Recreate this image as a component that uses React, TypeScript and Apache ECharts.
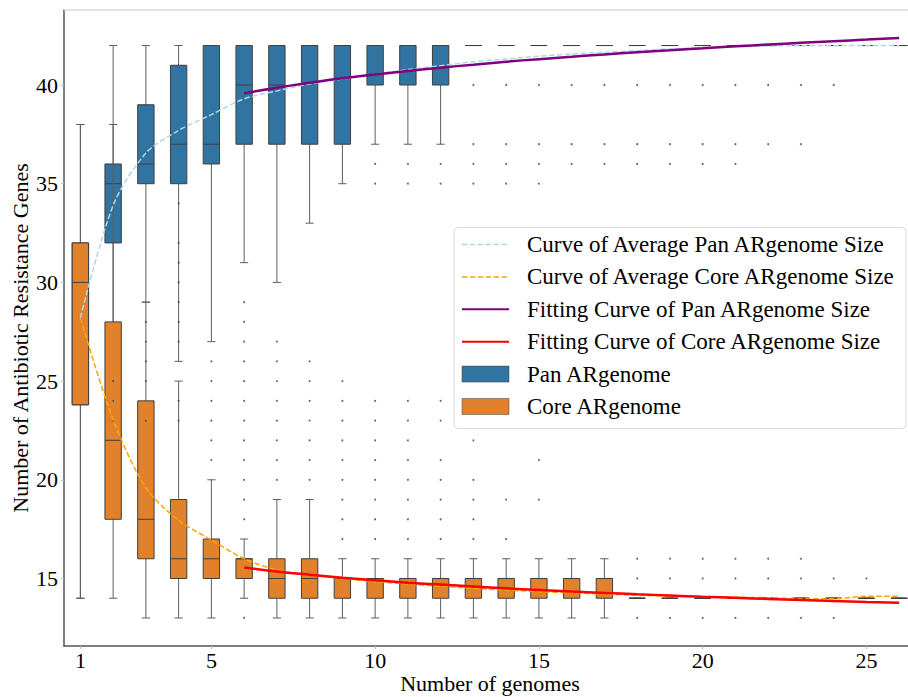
import React, { useEffect, useRef } from "react";
import * as echarts from "echarts";

const FONT = "'Liberation Serif', 'Times New Roman', Times, serif";

// Number of genomes (x categories)
const genomes = [1, 2, 3, 4, 5, 6, 7, 8, 9, 10, 11, 12, 13, 14, 15, 16, 17, 18, 19, 20, 21, 22, 23, 24, 25, 26];
const xTicks = [1, 5, 10, 15, 20, 25];
const yTicks = [15, 20, 25, 30, 35, 40];

// Pan ARgenome box statistics
const panMin = [14, 26, 29, 26, 27, 31, 30, 33, 35, 37, 37, 37, 42, 42, 42, 42, 42, 42, 42, 42, 42, 42, 42, 42, 42, 42];
const panQ1 = [23.8, 32, 35, 35, 36, 37, 37, 37, 37, 40, 40, 40, 42, 42, 42, 42, 42, 42, 42, 42, 42, 42, 42, 42, 42, 42];
const panMed = [30, 35, 36, 37, 37, 40, 40, 42, 42, 42, 42, 42, 42, 42, 42, 42, 42, 42, 42, 42, 42, 42, 42, 42, 42, 42];
const panQ3 = [32, 36, 39, 41, 42, 42, 42, 42, 42, 42, 42, 42, 42, 42, 42, 42, 42, 42, 42, 42, 42, 42, 42, 42, 42, 42];
const panMax = [38, 42, 42, 42, 42, 42, 42, 42, 42, 42, 42, 42, 42, 42, 42, 42, 42, 42, 42, 42, 42, 42, 42, 42, 42, 42];

// Core ARgenome box statistics
const coreMin = [14, 14, 13, 13, 13, 14, 13, 13, 13, 13, 13, 13, 13, 13, 13, 13, 13, 14, 14, 14, 14, 14, 14, 14, 14, 14];
const coreQ1 = [23.8, 18, 16, 15, 15, 15, 14, 14, 14, 14, 14, 14, 14, 14, 14, 14, 14, 14, 14, 14, 14, 14, 14, 14, 14, 14];
const coreMed = [30, 22, 18, 16, 16, 16, 15, 15, 15, 15, 15, 15, 15, 15, 15, 15, 15, 14, 14, 14, 14, 14, 14, 14, 14, 14];
const coreQ3 = [32, 28, 24, 19, 17, 16, 16, 16, 15, 15, 15, 15, 15, 15, 15, 15, 15, 14, 14, 14, 14, 14, 14, 14, 14, 14];
const coreMax = [38, 38, 29, 25, 20, 17, 19, 19, 16, 16, 16, 16, 16, 16, 16, 16, 16, 14, 14, 14, 14, 14, 14, 14, 14, 14];

// Outlier points (both box groups) per number of genomes
const outliers: number[][] = [
  [],
  [25, 24, 23],
  [28, 27, 26, 25, 23],
  [34, 32, 31, 30, 29, 28, 27, 24, 23],
  [26, 25, 24, 23, 22, 21],
  [29, 28, 27, 26, 25, 24, 23, 22, 21, 20, 19, 18, 13],
  [27, 26, 25, 24, 23, 22, 21, 20],
  [26, 25, 24, 23, 22, 21, 20],
  [25, 24, 23, 22, 21, 20, 19, 18, 17],
  [36, 35, 24, 23, 22, 21, 20, 19, 18, 17],
  [36, 35, 24, 23, 22, 21, 20, 19, 18, 17],
  [36, 35, 24, 23, 21, 20, 19, 18, 17],
  [40, 37, 36, 35, 22, 20, 19, 18, 17],
  [40, 37, 36, 35, 19, 17],
  [40, 37, 36, 35, 21, 19],
  [40, 37, 36],
  [40, 37, 36],
  [40, 37, 36, 16, 15, 13],
  [40, 37, 36, 16, 15, 13],
  [40, 37, 36, 16, 15, 13],
  [40, 37, 36, 16, 15, 13],
  [40, 37, 16, 15, 13],
  [40, 37, 16, 15, 13],
  [40, 15, 13],
  [15],
  [],
];

// Average curves
const avgPan = [28.2, 33.9, 36.55, 37.7, 38.5, 39.3, 39.7, 40.05, 40.3, 40.55, 40.78, 40.98, 41.18, 41.32, 41.46, 41.57, 41.66, 41.74, 41.83, 41.88, 41.94, 41.98, 42.0, 42.0, 42.0, 42.0];
const avgCore = [28.2, 23.05, 19.6, 17.95, 16.95, 16.0, 15.43, 15.18, 15.0, 14.84, 14.72, 14.6, 14.5, 14.42, 14.33, 14.28, 14.21, 14.15, 14.1, 14.08, 14.05, 14.03, 13.98, 13.98, 14.1, 14.1];

// Fitting curves (n = 6 .. 26)
const fitGenomes = [6, 7, 8, 9, 10, 11, 12, 13, 14, 15, 16, 17, 18, 19, 20, 21, 22, 23, 24, 25, 26];
const fitPan = [39.58, 39.86, 40.11, 40.34, 40.53, 40.71, 40.88, 41.03, 41.18, 41.31, 41.43, 41.55, 41.66, 41.76, 41.86, 41.96, 42.05, 42.14, 42.22, 42.3, 42.38];
const fitCore = [15.56, 15.36, 15.19, 15.04, 14.91, 14.79, 14.69, 14.59, 14.5, 14.42, 14.34, 14.27, 14.2, 14.14, 14.07, 14.02, 13.96, 13.91, 13.86, 13.81, 13.77];

const PAN_COLOR = "#3274a1";
const CORE_COLOR = "#e1812c";
const EDGE = "#3f3f3f";
const WHISKER = "#5e5e5e";

const legendItems = [
  { label: "Curve of Average Pan ARgenome Size", kind: "line", color: "#add8e6", dash: true },
  { label: "Curve of Average Core ARgenome Size", kind: "line", color: "#ffa500", dash: true },
  { label: "Fitting Curve of Pan ARgenome Size", kind: "line", color: "#800080", dash: false },
  { label: "Fitting Curve of Core ARgenome Size", kind: "line", color: "#ff0000", dash: false },
  { label: "Pan ARgenome", kind: "patch", color: PAN_COLOR, dash: false },
  { label: "Core ARgenome", kind: "patch", color: CORE_COLOR, dash: false },
];

function boxSeries(name: string, color: string, mins: number[], q1s: number[], meds: number[], q3s: number[], maxs: number[]) {
  return {
    type: "custom",
    name,
    z: 2,
    data: genomes.map((g, i) => [g, mins[i], q1s[i], meds[i], q3s[i], maxs[i]]),
    encode: { x: 0, y: [1, 2, 3, 4, 5] },
    renderItem: (params: any, api: any) => {
      const x = api.value(0);
      const pMin = api.coord([x, api.value(1)]);
      const pQ1 = api.coord([x, api.value(2)]);
      const pMed = api.coord([x, api.value(3)]);
      const pQ3 = api.coord([x, api.value(4)]);
      const pMax = api.coord([x, api.value(5)]);
      const bw = api.size([0.5, 0])[0];
      const cw = api.size([0.25, 0])[0];
      const cx = pMin[0];
      const wStyle = { stroke: WHISKER, lineWidth: 1 };
      return {
        type: "group",
        children: [
          { type: "line", shape: { x1: cx, y1: pQ1[1], x2: cx, y2: pMin[1] }, style: wStyle },
          { type: "line", shape: { x1: cx, y1: pQ3[1], x2: cx, y2: pMax[1] }, style: wStyle },
          { type: "line", shape: { x1: cx - cw / 2, y1: pMin[1], x2: cx + cw / 2, y2: pMin[1] }, style: wStyle },
          { type: "line", shape: { x1: cx - cw / 2, y1: pMax[1], x2: cx + cw / 2, y2: pMax[1] }, style: wStyle },
          {
            type: "rect",
            shape: { x: cx - bw / 2, y: pQ3[1], width: bw, height: pQ1[1] - pQ3[1] },
            style: { fill: color, stroke: EDGE, lineWidth: 1 },
          },
          { type: "line", shape: { x1: cx - bw / 2, y1: pMed[1], x2: cx + bw / 2, y2: pMed[1] }, style: { stroke: EDGE, lineWidth: 1 } },
        ],
      };
    },
  };
}

export default function App() {
  const ref = useRef<HTMLDivElement>(null);
  useEffect(() => {
    if (!ref.current) return;
    const chart = echarts.init(ref.current, undefined, { renderer: "svg" });

    const legendX = 454;
    const legendY = 227.5;
    const rowY0 = 244.5;
    const rowStep = 32.4;
    const legendChildren: any[] = [
      {
        type: "rect",
        shape: { x: legendX, y: legendY, width: 452, height: 201, r: 4 },
        style: { fill: "rgba(255,255,255,0.9)", stroke: "#dadada", lineWidth: 1 },
      },
    ];
    legendItems.forEach((it, i) => {
      const cy = rowY0 + i * rowStep;
      if (it.kind === "line") {
        legendChildren.push({
          type: "line",
          shape: { x1: 462, y1: cy, x2: 509, y2: cy },
          style: { stroke: it.color, lineWidth: it.dash ? 1.5 : 2, lineDash: it.dash ? [5.5, 2.4] : null },
        });
      } else {
        legendChildren.push({
          type: "rect",
          shape: { x: 462, y: cy - 8, width: 47, height: 16 },
          style: { fill: it.color, stroke: EDGE, lineWidth: 0.5 },
        });
      }
      legendChildren.push({
        type: "text",
        x: 527,
        y: cy,
        style: { text: it.label, fontFamily: FONT, fontSize: 23, fill: "#000", textAlign: "left", textVerticalAlign: "middle" },
      });
    });

    const option: any = {
      animation: false,
      backgroundColor: "#fff",
      grid: { left: 64, right: 0, top: 10, bottom: 51, containLabel: false },
      xAxis: {
        type: "value",
        min: 0.5,
        max: 26.27,
        axisLine: { show: true, lineStyle: { color: "#555", width: 1.5 } },
        axisTick: { show: true, length: 3, customValues: xTicks, lineStyle: { color: "#bbb" } },
        axisLabel: { customValues: xTicks, fontFamily: FONT, fontSize: 22, lineHeight: 20, color: "#000", margin: 4 },
        splitLine: { show: false },
      },
      yAxis: {
        type: "value",
        min: 11.58,
        max: 43.8,
        axisLine: { show: true, lineStyle: { color: "#555", width: 1.5 } },
        axisTick: { show: true, length: 3, customValues: yTicks, lineStyle: { color: "#bbb" } },
        axisLabel: { customValues: yTicks, fontFamily: FONT, fontSize: 22, color: "#000", margin: 6 },
        splitLine: { show: false },
      },
      graphic: [
        { type: "line", shape: { x1: 64, y1: 10, x2: 908, y2: 10 }, style: { stroke: "#d9d9d9", lineWidth: 1.5 }, z: 1 },
        {
          type: "text",
          x: 20,
          y: 338,
          rotation: Math.PI / 2,
          style: { text: "Number of Antibiotic Resistance Genes", fontFamily: FONT, fontSize: 22, fill: "#000", textAlign: "center", textVerticalAlign: "middle" },
        },
        {
          type: "text",
          x: 490,
          y: 683.5,
          style: { text: "Number of genomes", fontFamily: FONT, fontSize: 22, lineHeight: 20, fill: "#000", textAlign: "center", textVerticalAlign: "middle" },
        },
        { type: "group", z: 100, children: legendChildren },
      ],
      series: [
        boxSeries("Pan ARgenome", PAN_COLOR, panMin, panQ1, panMed, panQ3, panMax),
        boxSeries("Core ARgenome", CORE_COLOR, coreMin, coreQ1, coreMed, coreQ3, coreMax),
        {
          type: "scatter",
          name: "Outliers",
          z: 3,
          symbol: "circle",
          symbolSize: 2,
          itemStyle: { color: "#444" },
          data: genomes.flatMap((g, i) => outliers[i].map((v) => [g, v])),
        },
        {
          type: "line",
          name: "Curve of Average Pan ARgenome Size",
          z: 4,
          smooth: 0.3,
          showSymbol: false,
          lineStyle: { color: "#add8e6", width: 1.5, type: [5.5, 2.4] },
          data: genomes.map((g, i) => [g, avgPan[i]]),
        },
        {
          type: "line",
          name: "Curve of Average Core ARgenome Size",
          z: 4,
          smooth: 0.3,
          showSymbol: false,
          lineStyle: { color: "#ffa500", width: 1.5, type: [5.5, 2.4] },
          data: genomes.map((g, i) => [g, avgCore[i]]),
        },
        {
          type: "line",
          name: "Fitting Curve of Pan ARgenome Size",
          z: 5,
          smooth: true,
          showSymbol: false,
          lineStyle: { color: "#800080", width: 2.5 },
          data: fitGenomes.map((g, i) => [g, fitPan[i]]),
        },
        {
          type: "line",
          name: "Fitting Curve of Core ARgenome Size",
          z: 5,
          smooth: true,
          showSymbol: false,
          lineStyle: { color: "#ff0000", width: 2.5 },
          data: fitGenomes.map((g, i) => [g, fitCore[i]]),
        },
      ],
    };
    chart.setOption(option);
    return () => chart.dispose();
  }, []);
  return <div ref={ref} style={{ position: "fixed", left: 0, top: 0, width: 908, height: 697 }} />;
}
